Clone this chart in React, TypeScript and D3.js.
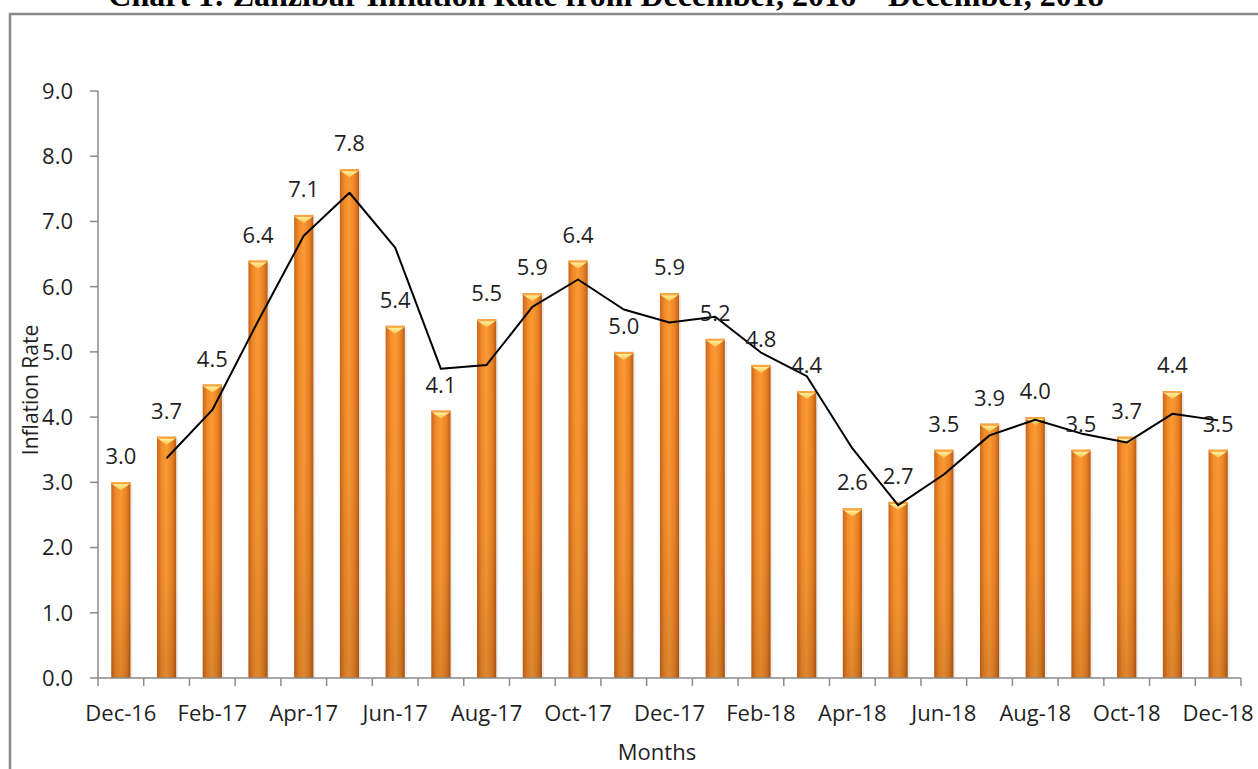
import React from 'react';
import * as d3 from 'd3';

const months = [
  'Dec-16', 'Jan-17', 'Feb-17', 'Mar-17', 'Apr-17', 'May-17', 'Jun-17', 'Jul-17', 'Aug-17',
  'Sep-17', 'Oct-17', 'Nov-17', 'Dec-17', 'Jan-18', 'Feb-18', 'Mar-18', 'Apr-18', 'May-18',
  'Jun-18', 'Jul-18', 'Aug-18', 'Sep-18', 'Oct-18', 'Nov-18', 'Dec-18',
];
const inflation = [
  3.0, 3.7, 4.5, 6.4, 7.1, 7.8, 5.4, 4.1, 5.5, 5.9, 6.4, 5.0, 5.9,
  5.2, 4.8, 4.4, 2.6, 2.7, 3.5, 3.9, 4.0, 3.5, 3.7, 4.4, 3.5,
];
// trend line (starts at Jan-17)
const trend = [
  null, 3.37, 4.11, 5.47, 6.78, 7.44, 6.6, 4.74, 4.8, 5.69, 6.11, 5.65, 5.45,
  5.54, 4.99, 4.63, 3.52, 2.65, 3.12, 3.72, 3.96, 3.75, 3.61, 4.05, 3.95,
];
const shownLabels = months.filter((_, i) => i % 2 === 0);
const yTicks = [0, 1, 2, 3, 4, 5, 6, 7, 8, 9];

const W = 1258;
const H = 769;
const left = 98;
const right = 1241;
const top = 91;
const bottom = 678;
const font = '"Open Sans", sans-serif';
const axisColor = '#8a8a8a';
const textColor = '#1f1f1f';

export default function App() {
  const x = d3.scaleBand<string>().domain(months).range([left, right]).padding(0);
  const y = d3.scaleLinear().domain([0, 9]).range([bottom, top]);
  const bw = x.bandwidth() * 0.42;
  const cx = (m: string) => (x(m) as number) + x.bandwidth() / 2;

  const line = d3
    .line<number | null>()
    .defined((d) => d !== null)
    .x((_, i) => cx(months[i]))
    .y((d) => y(d as number));

  const boundaries = months.map((m) => x(m) as number).concat([right]);

  return (
    <svg width={W} height={H} style={{ position: 'absolute', left: 0, top: 0 }}>
      <defs>
        <linearGradient id="barH" x1="0" x2="1" y1="0" y2="0">
          <stop offset="0%" stopColor="#cc661a" />
          <stop offset="25%" stopColor="#f38c2a" />
          <stop offset="50%" stopColor="#fa9a34" />
          <stop offset="80%" stopColor="#e88024" />
          <stop offset="100%" stopColor="#ba5a12" />
        </linearGradient>
        <linearGradient id="barV" x1="0" x2="0" y1="0" y2="1">
          <stop offset="0%" stopColor="#000" stopOpacity="0" />
          <stop offset="60%" stopColor="#000" stopOpacity="0.03" />
          <stop offset="100%" stopColor="#000" stopOpacity="0.12" />
        </linearGradient>
        <linearGradient id="bevel" x1="0" x2="0" y1="0" y2="1">
          <stop offset="0%" stopColor="#fff0a0" />
          <stop offset="100%" stopColor="#fcc24a" />
        </linearGradient>
      </defs>

      <rect x={10} y={14} width={W + 20} height={H + 20} fill="#fff" stroke={axisColor} strokeWidth={2.5} />

      <text
        x={606}
        y={6}
        textAnchor="middle"
        fontFamily='"Liberation Serif", "Times New Roman", serif'
        fontWeight="bold"
        fontSize={32}
        fill="#000"
      >
        Chart 1: Zanzibar Inflation Rate from December, 2016 – December, 2018
      </text>

      {/* bars */}
      {inflation.map((v, i) => {
        const bx = cx(months[i]) - bw / 2;
        const by = y(v);
        const bh = bottom - by;
        return (
          <g key={months[i]}>
            <rect x={bx + 2} y={by + 2} width={bw} height={bh - 2} fill="#000" opacity={0.08} />
            <rect x={bx} y={by} width={bw} height={bh} fill="url(#barH)" />
            <rect x={bx} y={by} width={bw} height={bh} fill="url(#barV)" />
            <rect x={bx} y={by} width={bw} height={2} fill="#f9a640" />
            <polygon
              points={`${bx + 1},${by + 2} ${bx + bw - 1},${by + 2} ${bx + bw / 2},${by + 8}`}
              fill="url(#bevel)"
            />
          </g>
        );
      })}

      {/* trend line */}
      <path d={line(trend) || ''} fill="none" stroke="#000" strokeWidth={2} strokeLinejoin="round" />

      {/* data labels */}
      {inflation.map((v, i) => (
        <text
          key={'l' + i}
          x={cx(months[i])}
          y={y(v) - 18}
          textAnchor="middle"
          fontFamily={font}
          fontSize={22}
          fill={textColor}
        >
          {v.toFixed(1)}
        </text>
      ))}

      {/* y axis */}
      <line x1={left} x2={left} y1={top} y2={bottom} stroke={axisColor} strokeWidth={1.5} />
      {yTicks.map((t) => (
        <g key={'y' + t}>
          <line x1={left - 8} x2={left} y1={y(t)} y2={y(t)} stroke={axisColor} strokeWidth={1.5} />
          <text
            x={73}
            y={y(t)}
            dy="0.36em"
            textAnchor="end"
            fontFamily={font}
            fontSize={22}
            fill={textColor}
          >
            {d3.format('.1f')(t)}
          </text>
        </g>
      ))}

      {/* x axis */}
      <line x1={left} x2={right} y1={bottom} y2={bottom} stroke={axisColor} strokeWidth={1.5} />
      {boundaries.map((bx, i) => (
        <line key={'t' + i} x1={bx} x2={bx} y1={bottom} y2={bottom + 8} stroke={axisColor} strokeWidth={1.5} />
      ))}
      {shownLabels.map((m) => (
        <text
          key={'x' + m}
          x={cx(m)}
          y={721}
          textAnchor="middle"
          fontFamily={font}
          fontSize={22}
          fill={textColor}
        >
          {m}
        </text>
      ))}

      <text x={657} y={760} textAnchor="middle" fontFamily={font} fontSize={22} fill={textColor}>
        Months
      </text>
      <text
        transform="translate(38,390) rotate(-90)"
        textAnchor="middle"
        fontFamily={font}
        fontSize={21}
        fill={textColor}
      >
        Inflation Rate
      </text>
    </svg>
  );
}
